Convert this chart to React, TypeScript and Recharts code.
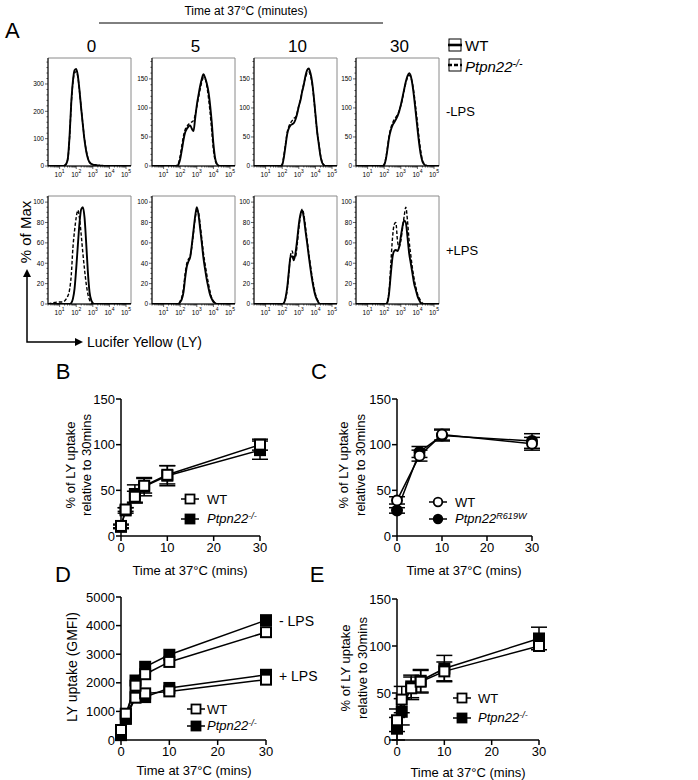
import React from 'react';
import { LineChart, Line, XAxis, YAxis, ErrorBar, ReferenceArea } from 'recharts';

const FONT = '"Liberation Sans", Arial, Helvetica, sans-serif';

// ---------- A: LY histograms, x = log10 fluorescence ----------
const lyBins = [1.0, 1.1, 1.2, 1.3, 1.4, 1.5, 1.6, 1.7, 1.8, 1.9, 2.0, 2.1, 2.2, 2.3, 2.4, 2.5, 2.6, 2.7, 2.8, 2.9, 3.0, 3.1, 3.2, 3.3, 3.4, 3.5, 3.6, 3.7, 3.8, 3.9, 4.0, 4.1, 4.2, 4.3, 4.4, 4.5, 4.6];
const timeHeaders = ['0', '5', '10', '30'];

// -LPS (cell counts)
const noLpsWT0 = [0, 0, 0, 2, 8, 30, 110, 230, 310, 350, 355, 330, 275, 210, 150, 95, 55, 28, 14, 8, 5, 4, 3, 2, 2, 1, 1, 0, 0, 0, 0, 0, 0, 0, 0, 0, 0];
const noLpsKO0 = [0, 0, 0, 2, 8, 28, 105, 225, 305, 340, 345, 325, 272, 212, 152, 98, 58, 30, 15, 8, 5, 4, 3, 2, 2, 1, 1, 0, 0, 0, 0, 0, 0, 0, 0, 0, 0];
const noLpsWT5 = [0, 0, 0, 0, 0, 0, 0, 0, 0, 3, 12, 28, 45, 58, 64, 68, 70, 64, 60, 82, 105, 122, 138, 150, 158, 152, 142, 128, 105, 75, 38, 14, 4, 1, 0, 0, 0];
const noLpsKO5 = [0, 0, 0, 0, 0, 0, 0, 0, 1, 5, 18, 36, 52, 63, 68, 72, 74, 76, 78, 88, 102, 118, 132, 145, 152, 150, 138, 118, 92, 60, 28, 10, 3, 1, 0, 0, 0];
const noLpsWT10 = [0, 0, 0, 0, 0, 0, 0, 0, 0, 0, 2, 15, 35, 55, 65, 70, 72, 74, 80, 90, 103, 113, 128, 140, 155, 165, 168, 160, 145, 120, 90, 60, 38, 18, 6, 2, 0];
const noLpsKO10 = [0, 0, 0, 0, 0, 0, 0, 0, 0, 0, 3, 18, 38, 58, 68, 74, 78, 82, 84, 92, 104, 115, 128, 142, 152, 160, 162, 156, 142, 118, 88, 60, 40, 20, 7, 2, 0];
const noLpsWT30 = [0, 0, 0, 0, 0, 0, 0, 0, 0, 0, 2, 12, 30, 50, 62, 70, 75, 80, 86, 94, 105, 118, 132, 145, 155, 160, 155, 140, 118, 92, 65, 40, 20, 8, 3, 1, 0];
const noLpsKO30 = [0, 0, 0, 0, 0, 0, 0, 0, 0, 0, 3, 14, 33, 53, 66, 74, 80, 84, 88, 95, 104, 116, 130, 143, 152, 156, 153, 142, 124, 100, 75, 48, 26, 10, 4, 1, 0];

// +LPS (% of max)
const lpsWT0 = [0, 0, 0, 0, 0, 0, 0, 1, 5, 15, 35, 58, 80, 93, 95, 85, 60, 32, 12, 4, 1, 0, 0, 0, 0, 0, 0, 0, 0, 0, 0, 0, 0, 0, 0, 0, 0];
const lpsKO0 = [2, 2, 2, 3, 5, 8, 14, 28, 55, 72, 85, 92, 84, 68, 50, 34, 20, 10, 4, 1, 0, 0, 0, 0, 0, 0, 0, 0, 0, 0, 0, 0, 0, 0, 0, 0, 0];
const lpsWT5 = [0, 0, 0, 0, 0, 0, 0, 0, 0, 0, 2, 5, 12, 26, 37, 42, 46, 58, 72, 86, 95, 88, 74, 60, 45, 34, 24, 16, 9, 5, 2, 1, 0, 0, 0, 0, 0];
const lpsKO5 = [0, 0, 0, 0, 0, 0, 0, 0, 0, 0, 3, 7, 16, 30, 40, 44, 47, 56, 70, 84, 92, 90, 78, 64, 50, 39, 29, 20, 12, 6, 3, 1, 0, 0, 0, 0, 0];
const lpsWT10 = [0, 0, 0, 0, 0, 0, 0, 0, 0, 0, 0, 1, 6, 16, 32, 46, 47, 43, 50, 63, 78, 88, 92, 85, 72, 60, 47, 35, 24, 15, 8, 4, 1, 0, 0, 0, 0];
const lpsKO10 = [0, 0, 0, 0, 0, 0, 0, 0, 0, 0, 0, 1, 5, 14, 30, 48, 52, 45, 46, 58, 74, 86, 93, 88, 76, 63, 50, 38, 27, 18, 10, 5, 2, 0, 0, 0, 0];
const lpsWT30 = [0, 0, 0, 0, 0, 0, 0, 0, 0, 0, 0, 0, 2, 12, 30, 46, 52, 53, 52, 56, 66, 76, 82, 80, 66, 50, 40, 30, 20, 14, 8, 4, 1, 0, 0, 0, 0];
const lpsKO30 = [0, 0, 0, 0, 0, 0, 0, 0, 0, 0, 0, 0, 3, 14, 40, 65, 78, 80, 62, 56, 62, 74, 86, 95, 82, 62, 48, 35, 25, 17, 10, 6, 3, 1, 0, 0, 0];

// ---------- B-E: time courses ----------
const timesB = [0, 1, 3, 5, 10, 30];
const bWT = [11, 29, 43, 55, 67, 100];
const bWTErr = [2, 2, 6, 8, 10, 6];
const bKO = [10, 28, 46, 54, 66, 94];
const bKOErr = [2, 3, 10, 10, 11, 10];

const timesC = [0, 5, 10, 30];
const cWT = [39, 88, 111, 101];
const cWTErr = [4, 6, 6, 7];
const cKO = [28, 92, 110, 104];
const cKOErr = [3, 6, 6, 8];

const timesD = [0, 1, 3, 5, 10, 30];
const dWTminus = [350, 920, 1900, 2300, 2730, 3770];
const dKOminus = [170, 750, 2080, 2560, 2980, 4190];
const dWTplus = [330, 900, 1480, 1630, 1700, 2110];
const dKOplus = [230, 740, 1500, 1500, 1820, 2280];

const timesE = [0, 1, 3, 5, 10, 30];
const eWT = [21, 43, 55, 62, 73, 100];
const eWTErr = [12, 14, 12, 12, 10, 0];
const eKO = [12, 30, 57, 63, 76, 108];
const eKOErr = [12, 14, 12, 12, 14, 12];

const pctTicks = [0, 50, 100, 150];
const gmfiTicks = [0, 1000, 2000, 3000, 4000, 5000];
const minTicks = [0, 10, 20, 30];

// ---------- helpers ----------
const steps = (a: number, b: number, s: number) => {
  const r: number[] = [];
  for (let v = a; v <= b + 1e-9; v += s) r.push(+v.toFixed(4));
  return r;
};
const logTicks: number[] = [];
for (let d = 0; d <= 5; d++) {
  for (let k = 1; k <= 9; k++) {
    const v = d + Math.log10(k);
    if (v >= 0.3 && v <= 5.3) logTicks.push(+v.toFixed(4));
  }
}

const LogTick = (p: any) => {
  const { x, y, payload } = p;
  const v = payload.value;
  const major = Math.abs(v - Math.round(v)) < 1e-4;
  return (
    <g>
      <line x1={x} x2={x} y1={y} y2={y + (major ? 3 : 1.6)} stroke="#000" strokeWidth={0.6} />
      {major && (
        <text x={x} y={y + 11} textAnchor="middle" fontSize={6.5} fontFamily={FONT} fill="#000">
          10<tspan dy={-4} fontSize={5}>{Math.round(v)}</tspan>
        </text>
      )}
    </g>
  );
};

const CountTick = (p: any) => {
  const { x, y, payload, majors } = p;
  const major = majors.includes(payload.value);
  return (
    <g>
      <line x1={x} x2={x - (major ? 3 : 1.6)} y1={y} y2={y} stroke="#000" strokeWidth={0.6} />
      {major && (
        <text x={x - 4} y={y} dy="0.35em" textAnchor="end" fontSize={6.5} fontFamily={FONT} fill="#000">
          {payload.value}
        </text>
      )}
    </g>
  );
};

const BOX_W = 83;
const BOX_H = 108;
const HY = 22;
const HX = 18;

function Histogram({ left, top, wt, ko, yMax, majors, minorStep }: any) {
  const data = [
    { b: 0.3, wt: 0, ko: 0 },
    ...lyBins.map((b, i) => ({ b, wt: wt[i], ko: ko[i] })),
    { b: 5.3, wt: 0, ko: 0 },
  ];
  return (
    <div style={{ position: 'absolute', left: left - HY, top: top - 1 }}>
      <LineChart width={HY + BOX_W + 2} height={BOX_H + HX + 1} data={data} margin={{ top: 1, right: 2, bottom: 0, left: 0 }}>
        <XAxis dataKey="b" type="number" domain={[0.3, 5.3]} ticks={logTicks} interval={0} height={HX}
          tick={<LogTick />} tickLine={false} tickSize={0} tickMargin={0} axisLine={{ stroke: '#000', strokeWidth: 1 }} allowDataOverflow />
        <YAxis type="number" domain={[0, yMax]} ticks={steps(0, yMax, minorStep)} interval={0} width={HY}
          tick={<CountTick majors={majors} />} tickLine={false} tickSize={0} tickMargin={0} axisLine={{ stroke: '#000', strokeWidth: 1 }} allowDataOverflow />
        <ReferenceArea x1={0.3} x2={5.3} y1={0} y2={yMax} fill="none" fillOpacity={0} stroke="#8a8a8a" strokeWidth={1} />
        <Line dataKey="ko" type="monotone" stroke="#000" strokeWidth={1.4} strokeDasharray="3.5 2" dot={false} isAnimationActive={false} />
        <Line dataKey="wt" type="monotone" stroke="#000" strokeWidth={1.9} dot={false} isAnimationActive={false} />
      </LineChart>
    </div>
  );
}

const OpenSquare = (p: any) => (p.cx == null ? null : <rect x={p.cx - 5} y={p.cy - 5} width={10} height={10} fill="#fff" stroke="#000" strokeWidth={2} />);
const FilledSquare = (p: any) => (p.cx == null ? null : <rect x={p.cx - 5} y={p.cy - 5} width={10} height={10} fill="#000" stroke="#000" strokeWidth={2} />);
const OpenCircle = (p: any) => (p.cx == null ? null : <circle cx={p.cx} cy={p.cy} r={5} fill="#fff" stroke="#000" strokeWidth={2} />);
const FilledCircle = (p: any) => (p.cx == null ? null : <circle cx={p.cx} cy={p.cy} r={5} fill="#000" stroke="#000" strokeWidth={2} />);

const prismAxis = {
  axisLine: { stroke: '#000', strokeWidth: 1.5 },
  tickLine: { stroke: '#000', strokeWidth: 1.5 },
  tick: { fill: '#000', fontSize: 13, fontFamily: FONT },
  tickSize: 5,
};
const PM = { top: 8, right: 12, bottom: 0, left: 0 };
const PY = 40;
const PX = 22;

const Txt = ({ x, y, size = 13, anchor = 'start', rotate = false, style, children }: any) => {
  const tx = anchor === 'middle' ? '-50%' : anchor === 'end' ? '-100%' : '0';
  return (
    <div style={{
      position: 'absolute', left: x, top: y, fontSize: size, fontFamily: FONT, lineHeight: 1, whiteSpace: 'nowrap', color: '#000',
      transform: rotate ? 'translate(-50%, -50%) rotate(-90deg)' : `translate(${tx}, -50%)`, ...style,
    }}>{children}</div>
  );
};

const LegendMark = ({ x, y, circle, filled }: any) => (
  <svg width={18} height={12} style={{ position: 'absolute', left: x - 9, top: y - 6 }}>
    <line x1={0} x2={18} y1={6} y2={6} stroke="#000" strokeWidth={1.5} />
    {circle
      ? <circle cx={9} cy={6} r={4.3} fill={filled ? '#000' : '#fff'} stroke="#000" strokeWidth={1.8} />
      : <rect x={4.5} y={1.5} width={9} height={9} fill={filled ? '#000' : '#fff'} stroke="#000" strokeWidth={1.8} />}
  </svg>
);

const KOName = ({ sup = '-/-' }: any) => (
  <span style={{ fontStyle: 'italic' }}>Ptpn22<sup style={{ fontSize: '0.7em', verticalAlign: '0.45em' }}>{sup}</sup></span>
);

const boxLefts = [48, 152, 254, 356];
const topRowY = 58;
const botRowY = 196;

export default function App() {
  const topRow = [[noLpsWT0, noLpsKO0], [noLpsWT5, noLpsKO5], [noLpsWT10, noLpsKO10], [noLpsWT30, noLpsKO30]];
  const botRow = [[lpsWT0, lpsKO0], [lpsWT5, lpsKO5], [lpsWT10, lpsKO10], [lpsWT30, lpsKO30]];

  const bData = timesB.map((t, i) => ({ t, wt: bWT[i], wtErr: bWTErr[i], ko: bKO[i], koErr: bKOErr[i] }));
  const cData = timesC.map((t, i) => ({ t, wt: cWT[i], wtErr: cWTErr[i], ko: cKO[i], koErr: cKOErr[i] }));
  const dData = timesD.map((t, i) => ({ t, wtm: dWTminus[i], kom: dKOminus[i], wtp: dWTplus[i], kop: dKOplus[i] }));
  const eData = timesE.map((t, i) => ({ t, wt: eWT[i], wtErr: eWTErr[i], ko: eKO[i], koErr: eKOErr[i] }));

  const xAx = () => (
    <XAxis dataKey="t" type="number" domain={[0, 30]} ticks={minTicks} interval={0} height={PX} tickMargin={2} {...prismAxis} />
  );

  return (
    <div style={{ position: 'absolute', left: 0, top: 0, width: 698, height: 780, background: '#fff', overflow: 'hidden', fontFamily: FONT }}>
      {/* ---- panel A ---- */}
      <Txt x={5} y={31} size={22}>A</Txt>
      <Txt x={246} y={11} size={12} anchor="middle">Time at 37°C (minutes)</Txt>
      <svg width={698} height={40} style={{ position: 'absolute', left: 0, top: 0 }}>
        <line x1={99} x2={383} y1={23} y2={23} stroke="#000" strokeWidth={1} />
      </svg>
      {timeHeaders.map((h, i) => (
        <Txt key={h} x={boxLefts[i] + BOX_W / 2 + 2} y={46} size={17} anchor="middle">{h}</Txt>
      ))}

      {/* legend for histograms */}
      <svg width={18} height={36} style={{ position: 'absolute', left: 447, top: 37 }}>
        <rect x={2} y={2} width={12} height={12} fill="#fff" stroke="#000" strokeWidth={1} />
        <line x1={1} x2={15} y1={8} y2={8} stroke="#000" strokeWidth={2.6} />
        <rect x={2} y={22} width={12} height={12} fill="#fff" stroke="#000" strokeWidth={1} />
        <line x1={1} x2={15} y1={28} y2={28} stroke="#000" strokeWidth={2.6} strokeDasharray="4 2" />
      </svg>
      <Txt x={465} y={45} size={15}>WT</Txt>
      <Txt x={465} y={66} size={15}><KOName /></Txt>

      {topRow.map(([wt, ko], i) => (
        <Histogram key={'t' + i} left={boxLefts[i]} top={topRowY} wt={wt} ko={ko}
          yMax={395} majors={i === 0 ? [0, 100, 200, 300] : [0, 50, 100, 150]} minorStep={i === 0 ? 20 : 10}
          {...(i === 0 ? {} : { yMax: 186 })} />
      ))}
      {botRow.map(([wt, ko], i) => (
        <Histogram key={'b' + i} left={boxLefts[i]} top={botRowY} wt={wt} ko={ko}
          yMax={106} majors={[0, 20, 40, 60, 80, 100]} minorStep={5} />
      ))}
      <Txt x={446} y={111} size={13}>-LPS</Txt>
      <Txt x={446} y={250} size={13}>+LPS</Txt>

      <Txt x={25} y={232} size={15} rotate>% of Max</Txt>
      <svg width={120} height={90} style={{ position: 'absolute', left: 0, top: 262 }}>
        <polyline points="27,14 27,80 76,80" fill="none" stroke="#000" strokeWidth={1.5} />
        <polygon points="23,15 31,15 27,7" fill="#000" />
        <polygon points="75,76 75,84 83,80" fill="#000" />
      </svg>
      <Txt x={87} y={342} size={14}>Lucifer Yellow (LY)</Txt>

      {/* ---- panel B ---- */}
      <Txt x={63} y={372} size={22} anchor="middle">B</Txt>
      <div style={{ position: 'absolute', left: 121 - PY, top: 399 - PM.top }}>
        <LineChart width={PY + 139 + PM.right} height={PM.top + 137 + PX} data={bData} margin={PM}>
          {xAx()}
          <YAxis type="number" domain={[0, 150]} ticks={pctTicks} interval={0} width={PY} tickMargin={1} {...prismAxis} />
          <Line dataKey="ko" stroke="#000" strokeWidth={1.5} dot={<FilledSquare />} isAnimationActive={false}>
            <ErrorBar dataKey="koErr" width={8} stroke="#000" strokeWidth={1.5} direction="y" />
          </Line>
          <Line dataKey="wt" stroke="#000" strokeWidth={1.5} dot={<OpenSquare />} isAnimationActive={false}>
            <ErrorBar dataKey="wtErr" width={8} stroke="#000" strokeWidth={1.5} direction="y" />
          </Line>
        </LineChart>
      </div>
      <Txt x={70} y={465} rotate>% of LY uptake</Txt>
      <Txt x={86} y={465} rotate>relative to 30mins</Txt>
      <Txt x={190} y={570} anchor="middle">Time at 37°C (mins)</Txt>
      <LegendMark x={190} y={499} />
      <Txt x={207} y={499}>WT</Txt>
      <LegendMark x={190} y={519} filled />
      <Txt x={207} y={519}><KOName /></Txt>

      {/* ---- panel C ---- */}
      <Txt x={319} y={372} size={22} anchor="middle">C</Txt>
      <div style={{ position: 'absolute', left: 397 - PY, top: 399 - PM.top }}>
        <LineChart width={PY + 135 + PM.right} height={PM.top + 137 + PX} data={cData} margin={PM}>
          {xAx()}
          <YAxis type="number" domain={[0, 150]} ticks={pctTicks} interval={0} width={PY} tickMargin={1} {...prismAxis} />
          <Line dataKey="ko" stroke="#000" strokeWidth={1.5} dot={<FilledCircle />} isAnimationActive={false}>
            <ErrorBar dataKey="koErr" width={8} stroke="#000" strokeWidth={1.5} direction="y" />
          </Line>
          <Line dataKey="wt" stroke="#000" strokeWidth={1.5} dot={<OpenCircle />} isAnimationActive={false}>
            <ErrorBar dataKey="wtErr" width={8} stroke="#000" strokeWidth={1.5} direction="y" />
          </Line>
        </LineChart>
      </div>
      <Txt x={343} y={465} rotate>% of LY uptake</Txt>
      <Txt x={360} y={465} rotate>relative to 30mins</Txt>
      <Txt x={464} y={570} anchor="middle">Time at 37°C (mins)</Txt>
      <LegendMark x={438} y={502} circle />
      <Txt x={455} y={502}>WT</Txt>
      <LegendMark x={438} y={519} circle filled />
      <Txt x={455} y={519}><KOName sup="R619W" /></Txt>

      {/* ---- panel D ---- */}
      <Txt x={63} y={575} size={22} anchor="middle">D</Txt>
      <div style={{ position: 'absolute', left: 121 - PY, top: 597 - PM.top }}>
        <LineChart width={PY + 145 + PM.right} height={PM.top + 143 + PX} data={dData} margin={PM}>
          {xAx()}
          <YAxis type="number" domain={[0, 5000]} ticks={gmfiTicks} interval={0} width={PY} tickMargin={1} {...prismAxis} />
          <Line dataKey="kop" stroke="#000" strokeWidth={1.5} dot={<FilledSquare />} isAnimationActive={false} />
          <Line dataKey="wtp" stroke="#000" strokeWidth={1.5} dot={<OpenSquare />} isAnimationActive={false} />
          <Line dataKey="kom" stroke="#000" strokeWidth={1.5} dot={<FilledSquare />} isAnimationActive={false} />
          <Line dataKey="wtm" stroke="#000" strokeWidth={1.5} dot={<OpenSquare />} isAnimationActive={false} />
        </LineChart>
      </div>
      <Txt x={72} y={667} size={14} rotate>LY uptake (GMFI)</Txt>
      <Txt x={194} y={770} anchor="middle">Time at 37°C (mins)</Txt>
      <Txt x={279} y={621} size={14}>- LPS</Txt>
      <Txt x={279} y={676} size={14}>+ LPS</Txt>
      <LegendMark x={196} y={709} />
      <Txt x={207} y={709}>WT</Txt>
      <LegendMark x={196} y={726} filled />
      <Txt x={207} y={726}><KOName /></Txt>

      {/* ---- panel E ---- */}
      <Txt x={317} y={575} size={22} anchor="middle">E</Txt>
      <div style={{ position: 'absolute', left: 397 - PY, top: 599 - PM.top }}>
        <LineChart width={PY + 142 + PM.right} height={PM.top + 141 + PX} data={eData} margin={PM}>
          {xAx()}
          <YAxis type="number" domain={[0, 150]} ticks={pctTicks} interval={0} width={PY} tickMargin={1} {...prismAxis} />
          <Line dataKey="ko" stroke="#000" strokeWidth={1.5} dot={<FilledSquare />} isAnimationActive={false}>
            <ErrorBar dataKey="koErr" width={8} stroke="#000" strokeWidth={1.5} direction="y" />
          </Line>
          <Line dataKey="wt" stroke="#000" strokeWidth={1.5} dot={<OpenSquare />} isAnimationActive={false}>
            <ErrorBar dataKey="wtErr" width={8} stroke="#000" strokeWidth={1.5} direction="y" />
          </Line>
        </LineChart>
      </div>
      <Txt x={345} y={668} rotate>% of LY uptake</Txt>
      <Txt x={362} y={668} rotate>relative to 30mins</Txt>
      <Txt x={468} y={772} anchor="middle">Time at 37°C (mins)</Txt>
      <LegendMark x={462} y={698} />
      <Txt x={478} y={698}>WT</Txt>
      <LegendMark x={462} y={718} filled />
      <Txt x={478} y={718}><KOName /></Txt>
    </div>
  );
}
